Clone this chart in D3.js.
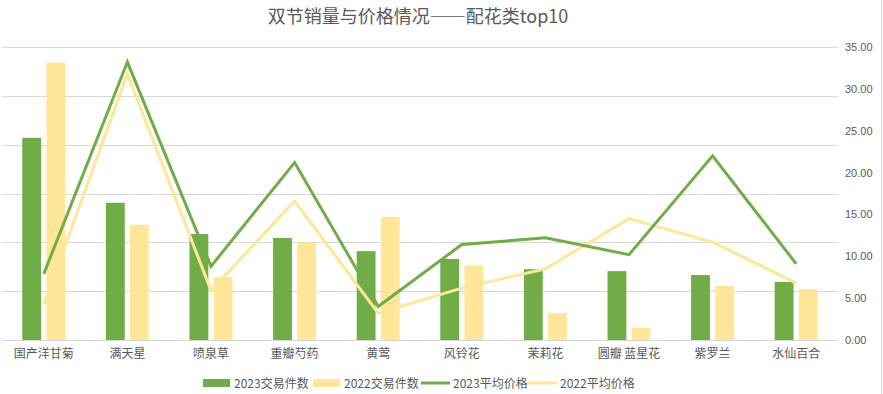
<html lang="zh">
<head>
<meta charset="UTF-8">
<title>双节销量与价格情况——配花类top10</title>
<script src="https://cdn.jsdelivr.net/npm/d3@7"></script>
<style>
html,body {margin:0;padding:0;background:#fff;}
svg text {font-family:"Noto Sans CJK SC","Noto Sans",sans-serif;fill:#595959;}
</style>
</head>
<body>
<div id="chart"></div>
<script>
// 品类
const categories = ['国产洋甘菊','满天星','喷泉草','重瓣芍药','黄莺','风铃花','茉莉花','圆瓣 蓝星花','紫罗兰','水仙百合'];
// 交易件数 (左轴, 刻度隐藏)
const count2023 = [414, 281, 217, 209, 182, 166, 145, 141, 133, 119];
const count2022 = [568, 236, 129, 200, 252, 153, 55, 25, 111, 104];
// 平均价格 (右轴)
const price2023 = [7.9, 33.2, 8.8, 21.2, 4.0, 11.4, 12.2, 10.2, 22.0, 9.1];
const price2022 = [4.2, 31.8, 5.9, 16.6, 3.2, 6.2, 8.5, 14.5, 11.7, 6.8];
const rightTicks = [0, 5, 10, 15, 20, 25, 30, 35];
const leftTicks = [0, 100, 200, 300, 400, 500, 600];

const W = 883, H = 394;
const green = '#70AD47', yellow = '#FFE699', grid = '#D9D9D9';
const plotL = 2, plotR = 838, plotT = 47, plotB = 340;

const svg = d3.select('#chart').append('svg').attr('width', W).attr('height', H);

// 标题
svg.append('text')
	.attr('x', 418).attr('y', 23)
	.attr('text-anchor', 'middle')
	.attr('font-size', 18)
	.text('双节销量与价格情况——配花类top10');

// 右侧边框
svg.append('line').attr('x1', W - 1.5).attr('x2', W - 1.5).attr('y1', 0).attr('y2', H)
	.attr('stroke', grid).attr('stroke-width', 1);

const x = d3.scaleBand().domain(categories).range([plotL, plotR]);
const yL = d3.scaleLinear().domain([0, 600]).range([plotB, plotT]);
const yR = d3.scaleLinear().domain([0, 35]).range([plotB, plotT]);

// 网格线
svg.append('g').selectAll('line').data(leftTicks).join('line')
	.attr('x1', plotL).attr('x2', plotR)
	.attr('y1', d => Math.round(yL(d)) + 0.5).attr('y2', d => Math.round(yL(d)) + 0.5)
	.attr('stroke', grid).attr('stroke-width', 1);

// 右轴
const axisR = svg.append('g').attr('transform', `translate(${plotR},0)`)
	.call(d3.axisRight(yR).tickValues(rightTicks).tickFormat(d3.format('.2f')).tickSize(0).tickPadding(7));
axisR.select('.domain').remove();
axisR.selectAll('text').attr('font-size', 11).style('font-family', '"Liberation Sans",sans-serif').style('fill', '#595959');

// 底部类目
svg.append('g').selectAll('text').data(categories).join('text')
	.attr('x', d => x(d) + x.bandwidth() / 2)
	.attr('y', 358)
	.attr('text-anchor', 'middle')
	.attr('font-size', 12)
	.text(d => d);

// 柱子
const sub = d3.scaleBand().domain(['2023', '2022']).range([-21.5, 21.5]).paddingInner(0.22);
const barSeries = [
	{key: '2023', values: count2023, color: green},
	{key: '2022', values: count2022, color: yellow}
];
barSeries.forEach(s => {
	svg.append('g').selectAll('rect').data(categories).join('rect')
		.attr('x', (d, i) => x(d) + x.bandwidth() / 2 + sub(s.key))
		.attr('width', sub.bandwidth())
		.attr('y', (d, i) => yL(s.values[i]))
		.attr('height', (d, i) => plotB - yL(s.values[i]))
		.attr('fill', s.color);
});

// 折线
const line = d3.line()
	.x((d, i) => x(categories[i]) + x.bandwidth() / 2)
	.y(d => yR(d));
[{values: price2022, color: yellow}, {values: price2023, color: green}].forEach(s => {
	svg.append('path').datum(s.values)
		.attr('d', line)
		.attr('fill', 'none')
		.attr('stroke', s.color)
		.attr('stroke-width', 3)
		.attr('stroke-linejoin', 'miter');
});

// 图例
const legend = [
	{label: '2023交易件数', color: green, type: 'rect', x: 203},
	{label: '2022交易件数', color: yellow, type: 'rect', x: 313},
	{label: '2023平均价格', color: green, type: 'line', x: 421},
	{label: '2022平均价格', color: yellow, type: 'line', x: 528}
];
const lg = svg.append('g').selectAll('g').data(legend).join('g')
	.attr('transform', d => `translate(${d.x},383)`);
lg.filter(d => d.type === 'rect').append('rect')
	.attr('x', 0).attr('y', -4).attr('width', 27).attr('height', 8)
	.attr('fill', d => d.color);
lg.filter(d => d.type === 'line').append('line')
	.attr('x1', 0).attr('x2', 29).attr('y1', 0).attr('y2', 0)
	.attr('stroke', d => d.color).attr('stroke-width', 3);
lg.append('text')
	.attr('x', d => d.type === 'rect' ? 31 : 32)
	.attr('y', 4.5)
	.attr('font-size', 12)
	.text(d => d.label);
</script>
</body>
</html>
